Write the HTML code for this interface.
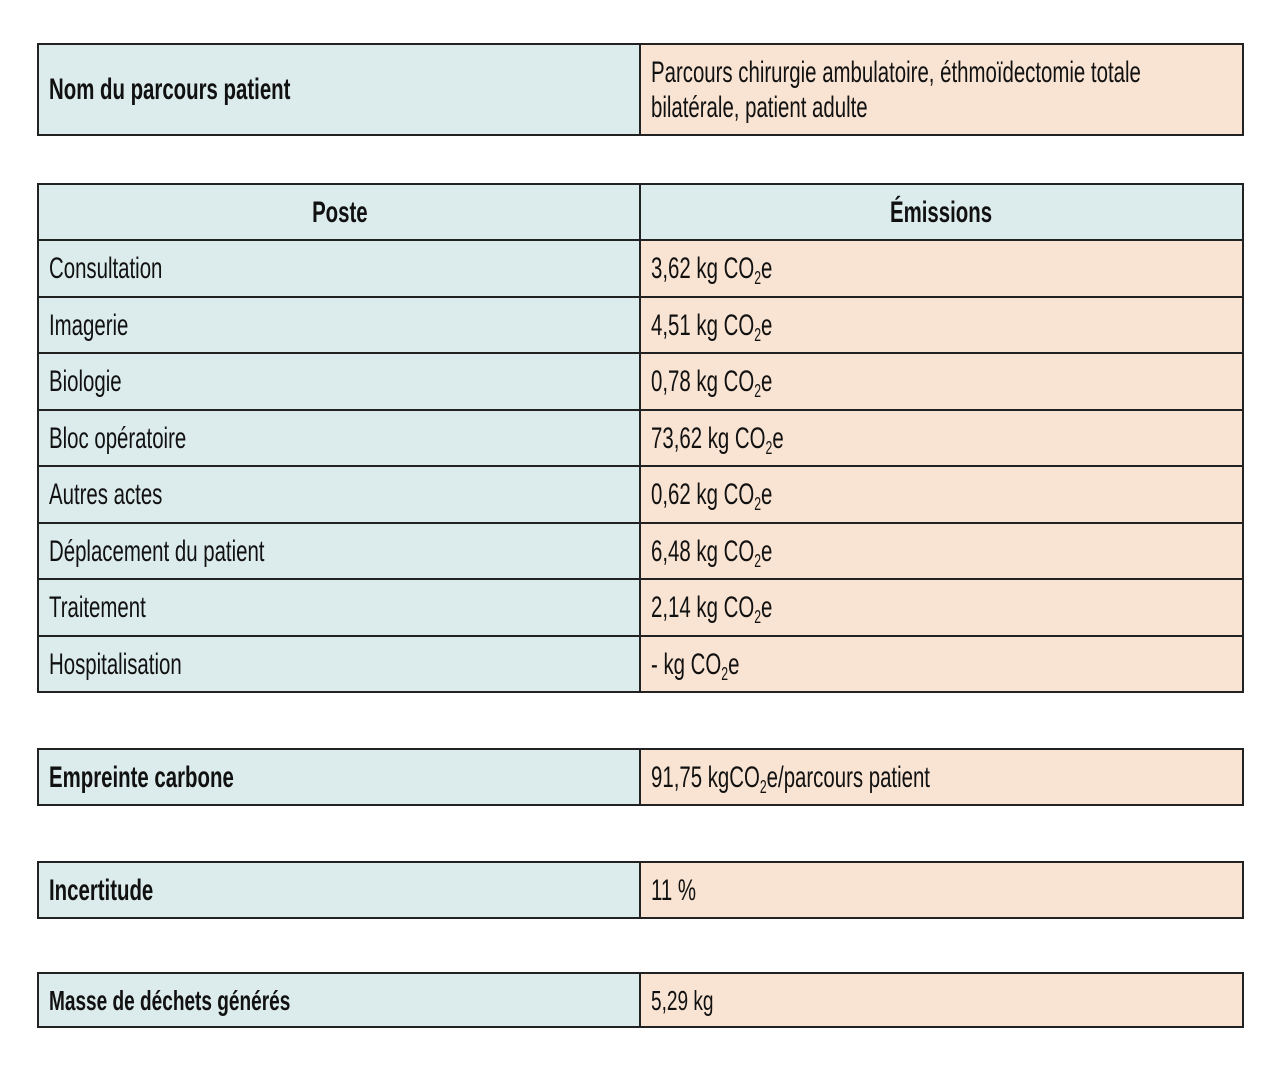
<!DOCTYPE html>
<html><head><meta charset="utf-8"><style>
body{margin:0;width:1280px;height:1067px;background:#fff;position:relative;font-family:"Liberation Sans",sans-serif;color:#111;overflow:hidden}
.c{position:absolute;box-sizing:border-box;border:2px solid #222;display:flex;align-items:center;padding-left:10px;font-size:30px}
.b{background:#dcebeb}.p{background:#f9e3d2}
.c span{display:inline-block;transform:scaleX(0.68);transform-origin:left center;white-space:nowrap;line-height:35px}
.ctr{justify-content:center;padding-left:0}.ctr span{transform-origin:center}
.bold{font-weight:bold}
sub{font-size:60%;vertical-align:-6px;line-height:0}
</style></head><body>
<div class="c b bold" style="left:37px;top:43px;width:605px;height:93px"><span>Nom du parcours patient</span></div>
<div class="c p" style="left:639px;top:43px;width:605px;height:93px"><span>Parcours chirurgie ambulatoire, éthmoïdectomie totale<br>bilatérale, patient adulte</span></div>

<div class="c b bold ctr" style="left:37px;top:183px;width:605px;height:59px"><span>Poste</span></div>
<div class="c b bold ctr" style="left:639px;top:183px;width:605px;height:59px"><span>Émissions</span></div>

<div class="c b" style="left:37px;top:239px;width:605px;height:59px"><span>Consultation</span></div>
<div class="c p" style="left:639px;top:239px;width:605px;height:59px"><span>3,62 kg CO<sub>2</sub>e</span></div>
<div class="c b" style="left:37px;top:296px;width:605px;height:59px"><span>Imagerie</span></div>
<div class="c p" style="left:639px;top:296px;width:605px;height:59px"><span>4,51 kg CO<sub>2</sub>e</span></div>
<div class="c b" style="left:37px;top:352px;width:605px;height:59px"><span>Biologie</span></div>
<div class="c p" style="left:639px;top:352px;width:605px;height:59px"><span>0,78 kg CO<sub>2</sub>e</span></div>
<div class="c b" style="left:37px;top:409px;width:605px;height:59px"><span>Bloc opératoire</span></div>
<div class="c p" style="left:639px;top:409px;width:605px;height:59px"><span>73,62 kg CO<sub>2</sub>e</span></div>
<div class="c b" style="left:37px;top:465px;width:605px;height:59px"><span>Autres actes</span></div>
<div class="c p" style="left:639px;top:465px;width:605px;height:59px"><span>0,62 kg CO<sub>2</sub>e</span></div>
<div class="c b" style="left:37px;top:522px;width:605px;height:59px"><span>Déplacement du patient</span></div>
<div class="c p" style="left:639px;top:522px;width:605px;height:59px"><span>6,48 kg CO<sub>2</sub>e</span></div>
<div class="c b" style="left:37px;top:578px;width:605px;height:59px"><span>Traitement</span></div>
<div class="c p" style="left:639px;top:578px;width:605px;height:59px"><span>2,14 kg CO<sub>2</sub>e</span></div>
<div class="c b" style="left:37px;top:635px;width:605px;height:58px"><span>Hospitalisation</span></div>
<div class="c p" style="left:639px;top:635px;width:605px;height:58px"><span>- kg CO<sub>2</sub>e</span></div>

<div class="c b bold" style="left:37px;top:748px;width:605px;height:58px"><span>Empreinte carbone</span></div>
<div class="c p" style="left:639px;top:748px;width:605px;height:58px"><span>91,75 kgCO<sub>2</sub>e/parcours patient</span></div>

<div class="c b bold" style="left:37px;top:861px;width:605px;height:58px"><span>Incertitude</span></div>
<div class="c p" style="left:639px;top:861px;width:605px;height:58px"><span>11 %</span></div>

<div class="c b bold" style="left:37px;top:972px;width:605px;height:56px;font-size:28px"><span>Masse de déchets générés</span></div>
<div class="c p" style="left:639px;top:972px;width:605px;height:56px;font-size:28px"><span>5,29 kg</span></div>
</body></html>
